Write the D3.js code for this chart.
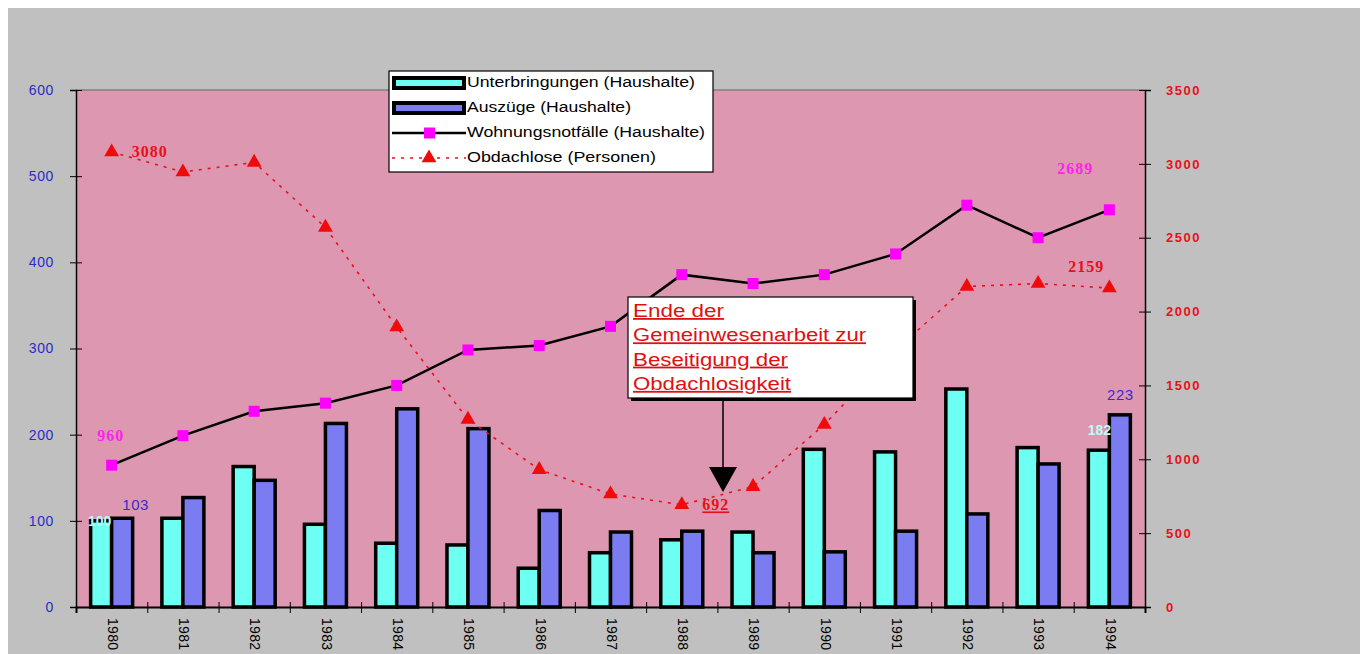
<!DOCTYPE html>
<html><head><meta charset="utf-8">
<script src="https://cdn.jsdelivr.net/npm/d3@7"></script>
<style>body{margin:0;background:#fff}svg{display:block}</style>
</head><body><svg id="c" width="1360" height="654"></svg>
<script>
const years = ['1980','1981','1982','1983','1984','1985','1986','1987','1988','1989','1990','1991','1992','1993','1994'];
const unterbringungen = [100, 103, 163, 96, 74, 72, 45, 63, 78, 87, 183, 180, 253, 185, 182];
const auszuege = [103, 127, 147, 213, 230, 207, 112, 87, 88, 63, 64, 88, 108, 166, 223];
const wohnungsnotfaelle = [960, 1160, 1325, 1380, 1500, 1740, 1770, 1900, 2250, 2190, 2250, 2390, 2720, 2500, 2689];
const obdachlose = [3080, 2945, 3010, 2570, 1895, 1270, 930, 765, 692, 815, 1235, 1740, 2170, 2190, 2159];
const leftTicks = [0, 100, 200, 300, 400, 500, 600];
const rightTicks = [0, 500, 1000, 1500, 2000, 2500, 3000, 3500];
const legendItems = ['Unterbringungen (Haushalte)', 'Auszüge (Haushalte)', 'Wohnungsnotfälle (Haushalte)', 'Obdachlose (Personen)'];
const noteLines = ['Ende der', 'Gemeinwesenarbeit zur', 'Beseitigung der', 'Obdachlosigkeit'];

const svg = d3.select('#c');
const L = 76, R = 1145, T = 90, B = 607;
const CYAN = '#6cfff2', BLUE = '#7b7bf2', PINK = '#dd97b0', GRAY = '#c0c0c0';

svg.append('rect').attr('x', 8).attr('y', 8).attr('width', 1352).attr('height', 646).attr('fill', GRAY);
svg.append('rect').attr('x', L).attr('y', T).attr('width', R - L).attr('height', B - T).attr('fill', PINK);
svg.append('line').attr('x1', L).attr('x2', R).attr('y1', T).attr('y2', T).attr('stroke', '#808080').attr('stroke-width', 1.5);

const x = d3.scaleBand().domain(years).range([L, R]).padding(0);
const xi = d3.scaleLinear().domain([0, years.length]).range([L, R]);
const yL = d3.scaleLinear().domain([0, 600]).range([B, T]);
const yR = d3.scaleLinear().domain([0, 3500]).range([B, T]);
const inner = d3.scaleBand().domain(['u', 'a']).range([-21, 21]).padding(0);
const cx = d => x(d) + x.bandwidth() / 2;

// Bars
const g = svg.append('g');
years.forEach((yr, i) => {
  [['u', unterbringungen[i], CYAN], ['a', auszuege[i], BLUE]].forEach(([k, v, c]) => {
    g.append('rect')
      .attr('x', cx(yr) + inner(k)).attr('width', inner.bandwidth())
      .attr('y', yL(v)).attr('height', B - yL(v))
      .attr('fill', c).attr('stroke', '#000').attr('stroke-width', 3.5);
  });
});

// Axes
const axL = svg.append('g').attr('transform', `translate(${L},0)`)
  .call(d3.axisLeft(yL).tickValues(leftTicks).tickFormat(d3.format('d')).tickSize(6).tickPadding(16));
axL.selectAll('.tick line').attr('x1', -6).attr('x2', 6);
axL.select('.domain').attr('stroke', '#000').attr('stroke-width', 1.5);
axL.selectAll('text').attr('fill', '#2b2bc8').attr('font-family', 'Liberation Sans, Arial')
  .attr('font-size', 14).attr('letter-spacing', 0.6);

const axR = svg.append('g').attr('transform', `translate(${R},0)`)
  .call(d3.axisRight(yR).tickValues(rightTicks).tickFormat(d3.format('d')).tickSize(6).tickPadding(15));
axR.selectAll('.tick line').attr('x1', -6).attr('x2', 6);
axR.select('.domain').attr('stroke', '#000').attr('stroke-width', 1.5);
axR.selectAll('text').attr('fill', '#e8101a').attr('font-family', 'Liberation Sans, Arial')
  .attr('font-size', 13).attr('font-weight', 'bold').attr('letter-spacing', 1.5);

const axB = svg.append('g').attr('transform', `translate(0,${B})`)
  .call(d3.axisBottom(xi).tickValues(d3.range(0, years.length + 1)).tickFormat('').tickSize(6));
axB.selectAll('.tick line').attr('y1', -5).attr('y2', 6);
axB.select('.domain').attr('stroke', '#000').attr('stroke-width', 2);

svg.append('g').selectAll('text').data(years).join('text')
  .attr('transform', d => `translate(${cx(d)},618) rotate(90)`)
  .attr('dominant-baseline', 'middle').attr('font-family', 'Liberation Sans, Arial')
  .attr('font-size', 14).attr('letter-spacing', 0.3).attr('fill', '#000').text(d => d);

// Lines
const lineW = d3.line().x((d, i) => cx(years[i])).y(d => yR(d));
svg.append('path').datum(wohnungsnotfaelle).attr('d', lineW)
  .attr('fill', 'none').attr('stroke', '#000').attr('stroke-width', 2.5);
svg.append('path').datum(obdachlose).attr('d', lineW)
  .attr('fill', 'none').attr('stroke', '#e8101a').attr('stroke-width', 1.6).attr('stroke-dasharray', '3,6');

svg.append('g').selectAll('rect').data(wohnungsnotfaelle).join('rect')
  .attr('x', (d, i) => cx(years[i]) - 5.5).attr('y', d => yR(d) - 5.5)
  .attr('width', 11).attr('height', 11).attr('fill', '#ff00ff');
const tri = d3.symbol().type(d3.symbolTriangle).size(95);
svg.append('g').selectAll('path').data(obdachlose).join('path')
  .attr('transform', (d, i) => `translate(${cx(years[i])},${yR(d)})`)
  .attr('d', tri).attr('fill', '#f00a0a');

// Data labels
function lab(t, xx, yy, col, opt = {}) {
  const e = svg.append('text').attr('x', xx).attr('y', yy).attr('fill', col)
    .attr('text-anchor', 'middle').attr('dominant-baseline', 'middle')
    .attr('font-family', opt.serif ? 'Liberation Serif, Times New Roman' : 'Liberation Sans, Arial')
    .attr('font-size', opt.size || 14).attr('font-weight', opt.bold ? 'bold' : 'normal')
    .attr('letter-spacing', opt.ls || 0).text(t);
  if (opt.underline) e.attr('text-decoration', 'underline');
  return e;
}
const last = years.length - 1;
const sOpt = {serif: true, bold: true, size: 16, ls: 1};
lab(obdachlose[0], cx(years[0]) + 38, yR(obdachlose[0]) + 1, '#e8101a', sOpt);
lab(obdachlose[8], cx(years[8]) + 34, yR(obdachlose[8]) + 2, '#e8101a', Object.assign({}, sOpt, {underline: true}));
lab(obdachlose[last], cx(years[last]) - 23, yR(obdachlose[last]) - 20, '#e8101a', sOpt);
lab(wohnungsnotfaelle[0], cx(years[0]) - 1, yR(wohnungsnotfaelle[0]) - 28, '#ff22ee', sOpt);
lab(wohnungsnotfaelle[last], cx(years[last]) - 34, yR(wohnungsnotfaelle[last]) - 39, '#ff22ee', sOpt);
lab(auszuege[0], cx(years[0]) + 24, yL(auszuege[0]) - 12, '#3a2ad0', {size: 15, ls: 0.5});
lab(auszuege[last], cx(years[last]) + 11, yL(auszuege[last]) - 19, '#3a2ad0', {size: 15, ls: 0.5});
lab(unterbringungen[0], cx(years[0]) - 12, yL(unterbringungen[0]) + 1, '#a8fff8', {size: 14, bold: true});
lab(unterbringungen[last], cx(years[last]) - 10, yL(unterbringungen[last]) - 19, '#b8fff8', {size: 14, bold: true});

// Legend
const lg = svg.append('g');
lg.append('rect').attr('x', 389).attr('y', 71).attr('width', 324).attr('height', 101)
  .attr('fill', '#fff').attr('stroke', '#000').attr('stroke-width', 1.2);
const rowY = [83, 108, 133, 158];
const textW = [228, 164, 238, 189];
[CYAN, BLUE].forEach((c, i) => {
  lg.append('rect').attr('x', 394).attr('y', rowY[i] - 5).attr('width', 70).attr('height', 10)
    .attr('fill', c).attr('stroke', '#000').attr('stroke-width', 4);
});
lg.append('line').attr('x1', 392).attr('x2', 466).attr('y1', rowY[2]).attr('y2', rowY[2]).attr('stroke', '#000').attr('stroke-width', 2.5);
lg.append('rect').attr('x', 424).attr('y', rowY[2] - 5.5).attr('width', 11).attr('height', 11).attr('fill', '#ff00ff');
lg.append('line').attr('x1', 392).attr('x2', 466).attr('y1', rowY[3]).attr('y2', rowY[3]).attr('stroke', '#e8101a').attr('stroke-width', 1.4).attr('stroke-dasharray', '3,6');
lg.append('path').attr('transform', `translate(429,${rowY[3]})`).attr('d', tri).attr('fill', '#f00a0a');
legendItems.forEach((t, i) => {
  lg.append('text').attr('x', 467).attr('y', rowY[i]).attr('dominant-baseline', 'middle')
    .attr('font-family', 'Liberation Sans, Arial').attr('font-size', 14).attr('fill', '#000')
    .attr('textLength', textW[i]).attr('lengthAdjust', 'spacingAndGlyphs').text(t);
});

// Annotation
const an = svg.append('g');
an.append('rect').attr('x', 631).attr('y', 300).attr('width', 285).attr('height', 101).attr('fill', '#000');
an.append('rect').attr('x', 628).attr('y', 297).attr('width', 285).attr('height', 101)
  .attr('fill', '#fff').attr('stroke', '#000').attr('stroke-width', 1.2);
const noteW = [91, 233, 155, 158];
noteLines.forEach((t, i) => {
  an.append('text').attr('x', 633).attr('y', 317 + i * 24.3)
    .attr('font-family', 'Liberation Sans, Arial').attr('font-size', 18).attr('fill', '#dd1111')
    .attr('text-decoration', 'underline')
    .attr('textLength', noteW[i]).attr('lengthAdjust', 'spacingAndGlyphs').text(t);
});
an.append('line').attr('x1', 723).attr('x2', 723).attr('y1', 401).attr('y2', 470).attr('stroke', '#000').attr('stroke-width', 1.5);
an.append('path').attr('d', 'M709,467 L737,467 L723,492 Z').attr('fill', '#000');
</script></body></html>
